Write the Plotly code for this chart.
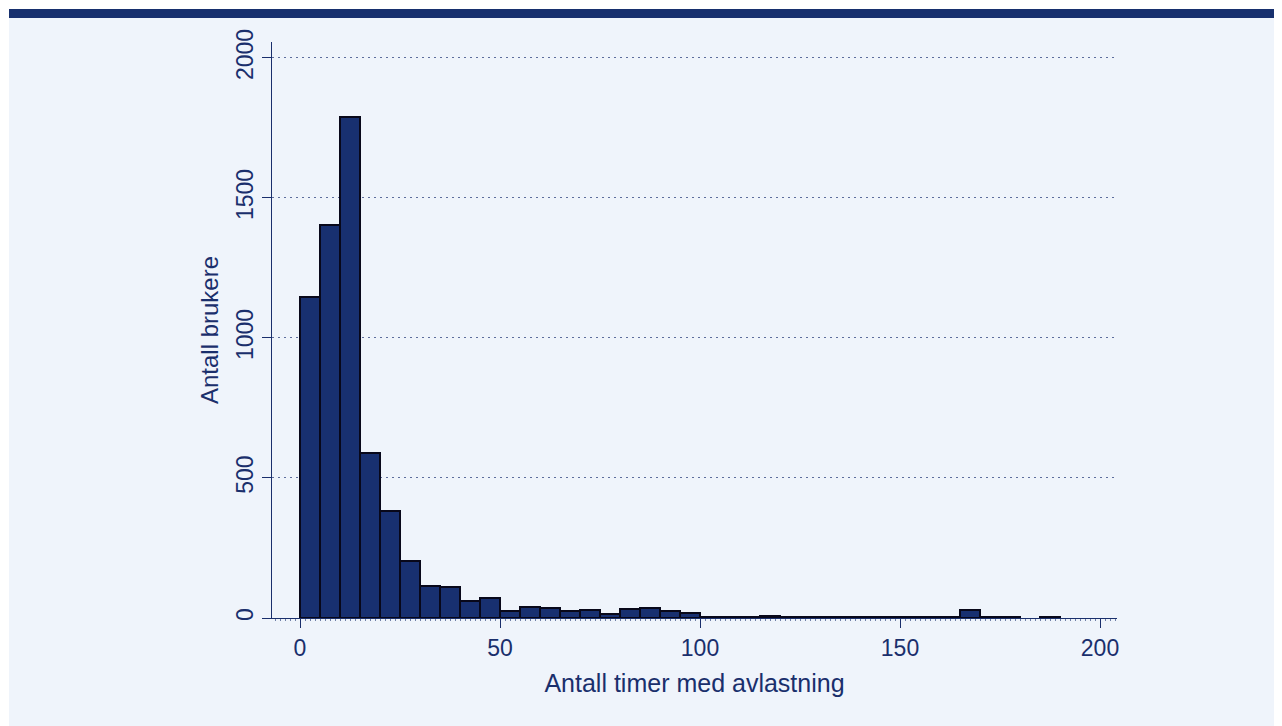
import plotly.graph_objects as go

# Histogram data: bin left edges (hours) and counts (users)
bin_width = 5
bin_left = [0, 5, 10, 15, 20, 25, 30, 35, 40, 45,
            50, 55, 60, 65, 70, 75, 80, 85, 90, 95,
            100, 105, 110, 115, 120, 125, 130, 135, 140, 145,
            150, 155, 160, 165, 170, 175, 185]
counts = [1146, 1404, 1790, 589, 381, 205, 113, 109, 60, 72,
          25, 39, 36, 26, 29, 14, 31, 34, 25, 18,
          3, 3, 3, 8, 3, 2, 2, 3, 3, 3,
          3, 3, 3, 30, 3, 4, 4]

x_ticks = [0, 50, 100, 150, 200]
y_ticks = [0, 500, 1000, 1500, 2000]
x_title = "Antall timer med avlastning"
y_title = "Antall brukere"

NAVY = "#1a2f6c"
BAR = "#183070"
BG = "#eff4fb"

# page is offset by the default 8px body margin
OFF = 8
W, H = 1282 - OFF, 726 - OFF
L, R, T, B = 272 - OFF, 1117 - OFF, 42 - OFF, 618 - OFF

fig = go.Figure(go.Bar(
    x=bin_left, y=counts, width=bin_width, offset=0,
    marker=dict(color=BAR, line=dict(color="#08081a", width=2)),
    hoverinfo="x+y",
))

def px(xp):
    return (xp - OFF - L) / (R - L)

def py(yp):
    return (B - (yp - OFF)) / (B - T)

shapes = [
    dict(type="rect", xref="paper", yref="paper", x0=px(-5), x1=px(9), y0=py(740), y1=py(-5),
         fillcolor="white", line=dict(width=0), layer="below"),
    dict(type="rect", xref="paper", yref="paper", x0=px(-5), x1=px(1300), y0=py(9), y1=py(-5),
         fillcolor="white", line=dict(width=0), layer="below"),
    dict(type="rect", xref="paper", yref="paper", x0=px(9), x1=px(1300), y0=py(18), y1=py(9),
         fillcolor="#17306e", line=dict(width=0), layer="below"),
]

font_family = "Liberation Sans, Arial, sans-serif"

fig.update_layout(
    width=W, height=H,
    margin=dict(l=L, r=W - R, t=T, b=H - B, pad=0),
    paper_bgcolor=BG, plot_bgcolor=BG,
    showlegend=False,
    bargap=0,
    shapes=shapes,
    font=dict(family=font_family, color=NAVY, size=23),
    xaxis=dict(
        range=[-7, 204.25], tickvals=x_ticks, ticks="outside", ticklen=9, tickwidth=1.3,
        tickcolor=NAVY, showline=True, linecolor=NAVY, linewidth=1.3,
        showgrid=False, zeroline=False,
        tickfont=dict(size=23, color=NAVY),
        title=dict(text=x_title, font=dict(size=25, color=NAVY), standoff=14),
        minor=dict(ticks="outside", ticklen=2, dtick=1.25, tickcolor="#6f7fa8", tickwidth=1),
    ),
    yaxis=dict(
        range=[0, 2057], tickvals=y_ticks, ticks="outside", ticklen=9, tickwidth=1.3,
        tickcolor=NAVY, showline=True, linecolor=NAVY, linewidth=1.3,
        showgrid=True, gridcolor="#5d6d9c", griddash="1.5px,4.5px", gridwidth=1.2,
        zeroline=False, tickangle=-90,
        tickfont=dict(size=23, color=NAVY),
        title=dict(text=y_title, font=dict(size=24, color=NAVY), standoff=6),
    ),
)

fig.write_html("out.html")
